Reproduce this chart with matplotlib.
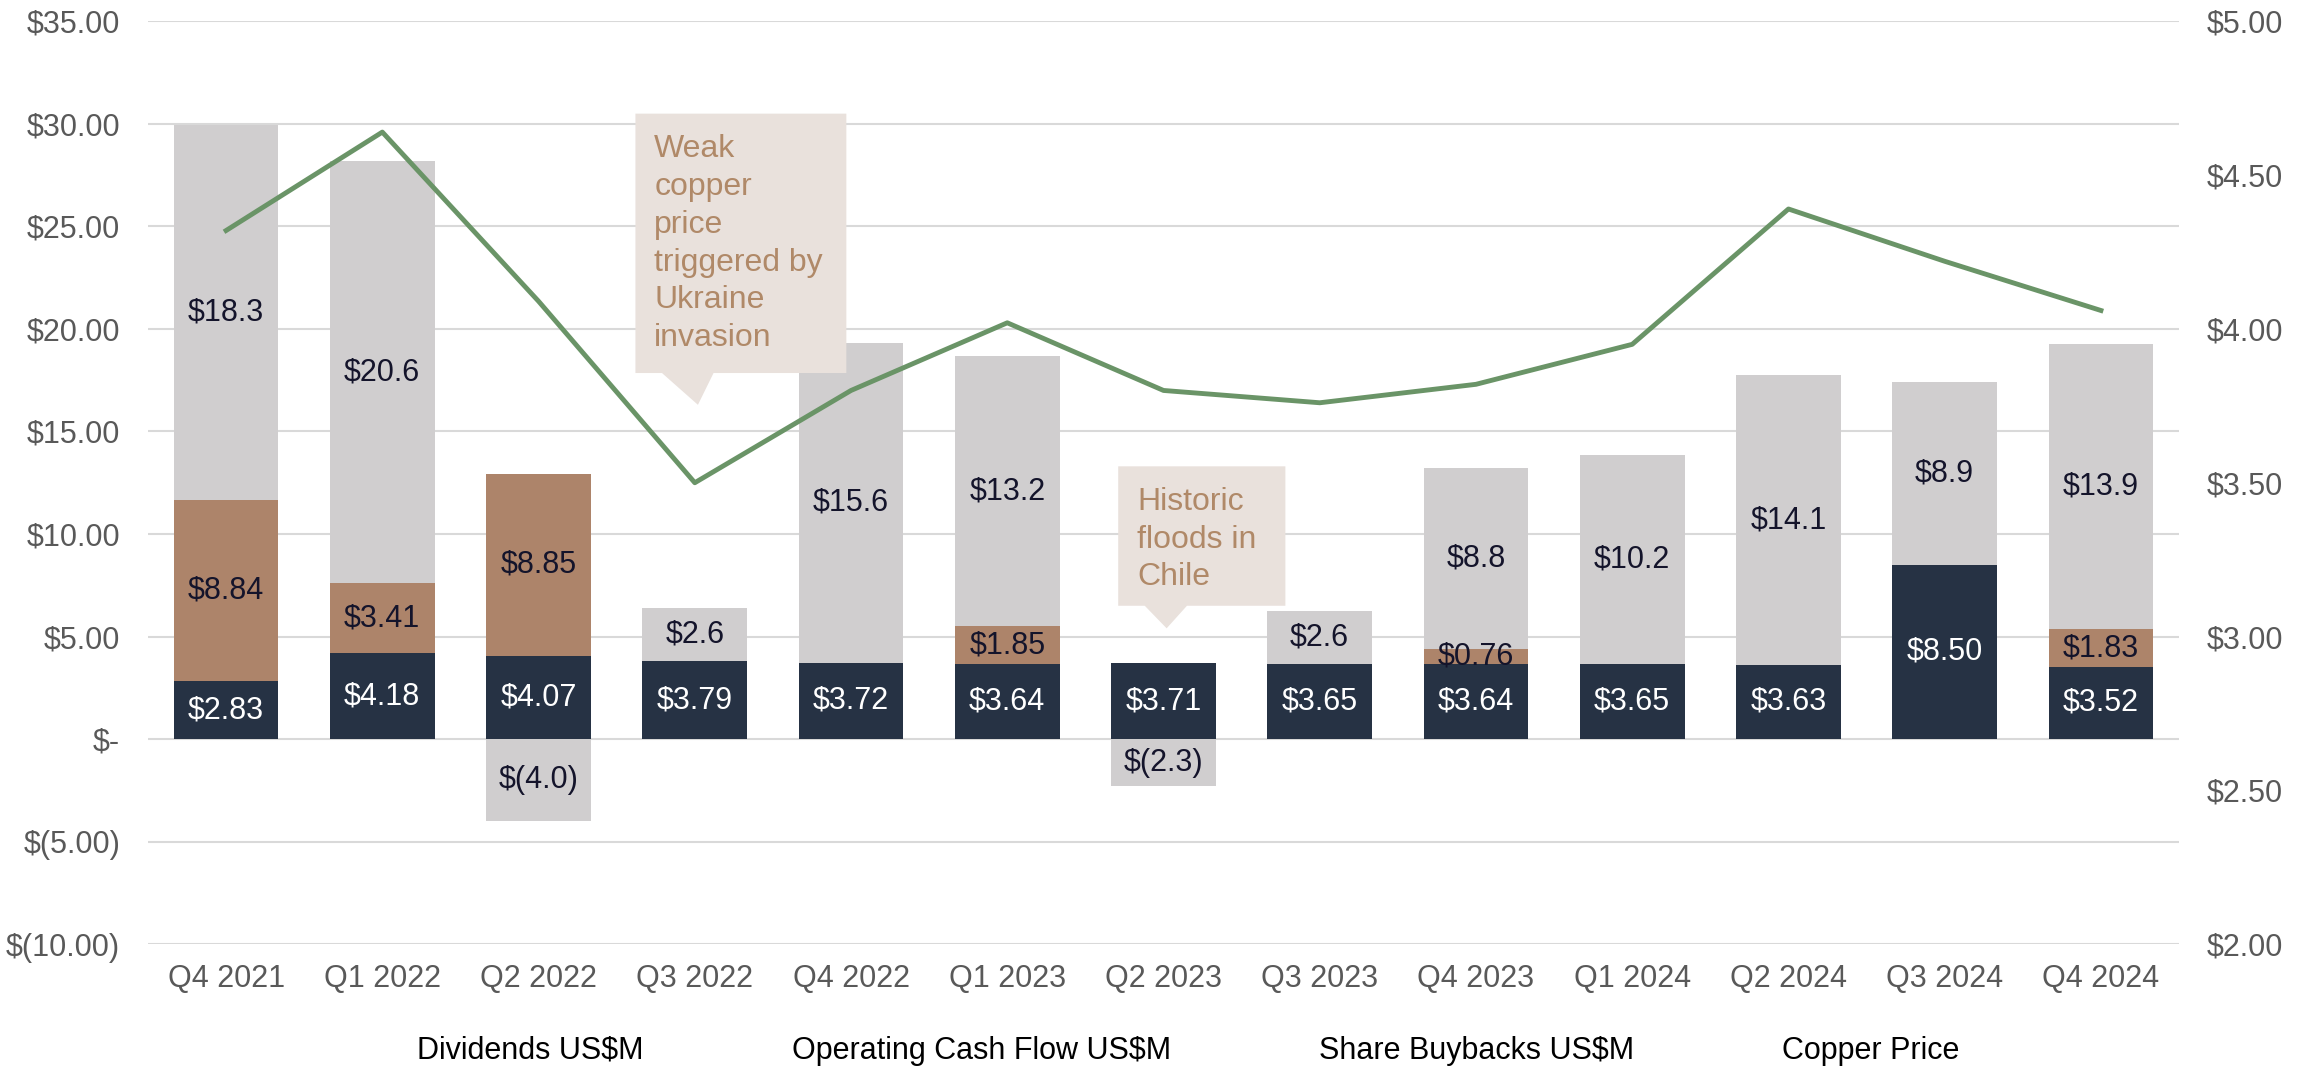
import numpy as np
import matplotlib
matplotlib.use('Agg')
import matplotlib.pyplot as plt
from matplotlib.patches import Patch, Polygon

plt.rcParams['font.family'] = ['Liberation Sans', 'DejaVu Sans']

quarters = ['Q4 2021', 'Q1 2022', 'Q2 2022', 'Q3 2022', 'Q4 2022', 'Q1 2023', 'Q2 2023',
            'Q3 2023', 'Q4 2023', 'Q1 2024', 'Q2 2024', 'Q3 2024', 'Q4 2024']
dividends = [2.83, 4.18, 4.07, 3.79, 3.72, 3.64, 3.71, 3.65, 3.64, 3.65, 3.63, 8.50, 3.52]
buybacks = [8.84, 3.41, 8.85, 0, 0, 1.85, 0, 0, 0.76, 0, 0, 0, 1.83]
op_cash_flow = [18.3, 20.6, -4.0, 2.6, 15.6, 13.2, -2.3, 2.6, 8.8, 10.2, 14.1, 8.9, 13.9]
copper_price = [4.32, 4.64, 4.09, 3.50, 3.80, 4.02, 3.80, 3.76, 3.82, 3.95, 4.39, 4.22, 4.06]

navy = '#263244'
brown = '#AD846A'
grey = '#D0CECF'
green = '#6A9467'
callout_bg = '#E9E1DC'
callout_fg = '#B08968'
tick_col = '#595959'
label_dark = '#14142B'
fs = 22

fig = plt.figure(figsize=(23.12, 10.68), dpi=100)
ax = fig.add_axes([0.064, 0.116, 0.8785, 0.864])
ax2 = ax.twinx()

x = np.arange(len(quarters))
w = 0.67
div = np.array(dividends)
bb = np.array(buybacks)
ocf = np.array(op_cash_flow)
ocf_bottom = np.where(ocf >= 0, div + bb, 0)

ax.bar(x, div, w, color=navy, zorder=2)
ax.bar(x, bb, w, bottom=div, color=brown, zorder=2)
ax.bar(x, ocf, w, bottom=ocf_bottom, color=grey, zorder=2)

for i in range(len(x)):
    ax.text(x[i], div[i] / 2, f'${div[i]:.2f}', ha='center', va='center',
            color='white', fontsize=fs, zorder=4)
    if bb[i] > 0:
        ax.text(x[i], div[i] + bb[i] / 2, f'${bb[i]:.2f}', ha='center', va='center',
                color=label_dark, fontsize=fs, zorder=4)
    v = ocf[i]
    txt = f'${v:.1f}' if v >= 0 else f'$({-v:.1f})'
    ax.text(x[i], ocf_bottom[i] + v / 2, txt, ha='center', va='center',
            color=label_dark, fontsize=fs, zorder=4)

ax.set_xlim(-0.5, len(x) - 0.5)
ax.set_ylim(-10, 35)
ax.set_yticks(np.arange(-10, 36, 5))


def left_fmt(v):
    if v == 0:
        return '$-'
    if v < 0:
        return f'$({-v:.2f})'
    return f'${v:.2f}'


ax.set_yticklabels([left_fmt(v) for v in np.arange(-10, 36, 5)])
ax.set_xticks(x)
ax.set_xticklabels(quarters)
ax.grid(axis='y', color='#D9D9D9', lw=1.5, zorder=0)
ax.set_axisbelow(True)
ax.tick_params(axis='both', length=0, labelsize=fs, labelcolor=tick_col)
ax.tick_params(axis='y', pad=20)
ax.tick_params(axis='x', pad=14)
for s in ax.spines.values():
    s.set_visible(False)

ax2.plot(x, copper_price, color=green, lw=3.5, zorder=3)
ax2.set_ylim(2, 5)
ax2.set_yticks(np.arange(2, 5.01, 0.5))
ax2.set_yticklabels([f'${v:.2f}' for v in np.arange(2, 5.01, 0.5)])
ax2.tick_params(axis='y', length=0, labelsize=fs, labelcolor=tick_col, pad=20)
for s in ax2.spines.values():
    s.set_visible(False)


def callout(x0, x1, y0, y1, bx0, bx1, tip, text):
    pts = [(x0, y1), (x1, y1), (x1, y0), (bx1, y0), tip, (bx0, y0), (x0, y0)]
    ax2.add_patch(Polygon(pts, closed=True, facecolor=callout_bg, edgecolor='none',
                          zorder=5, transform=ax.transData))
    ax2.text(x0 + 0.12, y1 - 1.0, text, ha='left', va='top', color=callout_fg,
             fontsize=23, linespacing=1.34, zorder=6, transform=ax.transData)


callout(2.62, 3.97, 17.85, 30.5, 2.79, 3.12, (3.02, 16.3),
        'Weak\ncopper\nprice\ntriggered by\nUkraine\ninvasion')
callout(5.71, 6.78, 6.5, 13.3, 5.88, 6.15, (6.02, 5.4),
        'Historic\nfloods in\nChile')

handles = [Patch(alpha=0) for _ in range(4)]
labels = ['Dividends US$M', 'Operating Cash Flow US$M', 'Share Buybacks US$M', 'Copper Price']
fig.legend(handles, labels, loc='center', bbox_to_anchor=(0.514, 0.016), ncol=4,
           frameon=False, fontsize=fs, handlelength=0, handletextpad=0,
           columnspacing=4.85, labelcolor='black')

fig.savefig('out.png', dpi=100)
